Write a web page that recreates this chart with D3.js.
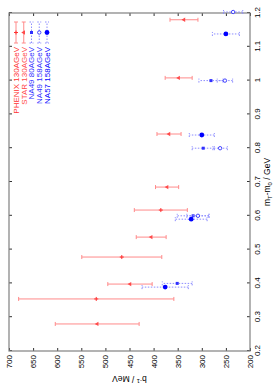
<!DOCTYPE html>
<html>
<head>
<meta charset="utf-8">
<script src="https://cdn.jsdelivr.net/npm/d3@7"></script>
<style>
body { margin:0; background:#fff; }
text { font-family:"Liberation Sans", Arial, sans-serif; }
</style>
</head>
<body>
<div id="chart"></div>
<script>
// values (mT-m0 in GeV, b^-1 in MeV, error in MeV)
let phenixMt = [0.617, 0.478, 0.354];
let phenixB = [385, 466, 519];
let phenixErr = [55, 83, 161];

let starMt = [1.18, 1.008, 0.842, 0.685, 0.537, 0.398, 0.28];
let starB = [337, 348, 368, 372, 405, 449, 517];
let starErr = [29, 28, 25, 24, 31, 46, 87];

let na49lowMt = [1.0, 0.80, 0.60, 0.40];
let na49lowB = [281, 297, 318, 351];
let na49lowErr = [25, 23, 33, 31];

let na49highMt = [1.203, 1.0, 0.80, 0.60];
let na49highB = [235, 252, 262, 308];
let na49highErr = [20, 16, 15, 23];

let na57Mt = [1.138, 0.839, 0.59, 0.389];
let na57B = [250, 300, 322, 376];
let na57Err = [28, 26, 33, 48];

let seriesNames = ["PHENIX 130AGeV", "STAR 130AGeV", "NA49 80AGeV", "NA49 158AGeV", "NA57 158AGeV"];
let xTicks = [0.2, 0.3, 0.4, 0.5, 0.6, 0.7, 0.8, 0.9, 1.0, 1.1, 1.2];
let yTicks = [200, 250, 300, 350, 400, 450, 500, 550, 600, 650, 700];

// the chart is drawn landscape and then turned a quarter turn
let W = 390, H = 273;
let margin = {top:9, right:13, bottom:23, left:39};

let series = [
  {mt:phenixMt, b:phenixB, err:phenixErr, color:"#ff3030", bar:"#ff8a8a", dash:null, mark:"plus"},
  {mt:starMt, b:starB, err:starErr, color:"#ff4a4a", bar:"#ff8a8a", dash:null, mark:"tri"},
  {mt:na49lowMt, b:na49lowB, err:na49lowErr, color:"#3030ff", bar:"#8c8cff", dash:"1.5,1.5", mark:"square"},
  {mt:na49highMt, b:na49highB, err:na49highErr, color:"#3030ff", bar:"#8c8cff", dash:"1.5,1.5", mark:"ocircle"},
  {mt:na57Mt, b:na57B, err:na57Err, color:"#0000ff", bar:"#8c8cff", dash:"1.5,1.5", mark:"fcircle"}
];

let svg = d3.select("#chart").append("svg")
    .attr("width", H)
    .attr("height", W);

let g = svg.append("g")
    .attr("transform", "translate(0," + W + ") rotate(-90)");

let x = d3.scaleLinear().domain([0.2, 1.2]).range([margin.left, W - margin.right]);
let y = d3.scaleLinear().domain([200, 700]).range([H - margin.bottom, margin.top]);

let fmtX = d => String(+d.toFixed(1));

// axes with inward ticks, mirrored on the opposite sides
g.append("g").attr("transform", "translate(0," + (H - margin.bottom) + ")")
    .call(d3.axisBottom(x).tickValues(xTicks).tickFormat(fmtX).tickSizeInner(-3).tickSizeOuter(0).tickPadding(4));
g.append("g").attr("transform", "translate(0," + margin.top + ")")
    .call(d3.axisTop(x).tickValues(xTicks).tickFormat("").tickSizeInner(-3).tickSizeOuter(0));
g.append("g").attr("transform", "translate(" + margin.left + ",0)")
    .call(d3.axisLeft(y).tickValues(yTicks).tickFormat(d3.format("d")).tickSizeInner(-3).tickSizeOuter(0).tickPadding(4));
g.append("g").attr("transform", "translate(" + (W - margin.right) + ",0)")
    .call(d3.axisRight(y).tickValues(yTicks).tickFormat("").tickSizeInner(-3).tickSizeOuter(0));

g.selectAll(".domain").remove();
g.selectAll(".tick line").attr("stroke", "#333");
g.selectAll(".tick text").attr("font-size", 8).attr("fill", "#000");

g.append("rect")
    .attr("x", margin.left).attr("y", margin.top)
    .attr("width", W - margin.left - margin.right)
    .attr("height", H - margin.top - margin.bottom)
    .attr("fill", "none").attr("stroke", "#808080").attr("stroke-width", 1.2);

// axis titles
let xt = g.append("text")
    .attr("x", (margin.left + W - margin.right) / 2).attr("y", H - 3)
    .attr("text-anchor", "middle").attr("font-size", 8.5);
xt.append("tspan").text("m");
xt.append("tspan").attr("font-size", 6).attr("dy", 2).text("T");
xt.append("tspan").attr("dy", -2).text("-m");
xt.append("tspan").attr("font-size", 6).attr("dy", 2).text("0");
xt.append("tspan").attr("dy", -2).text(" / GeV");

let yt = g.append("text")
    .attr("transform", "translate(14," + ((margin.top + H - margin.bottom) / 2) + ") rotate(-90)")
    .attr("text-anchor", "middle").attr("font-size", 8.5);
yt.append("tspan").text("b");
yt.append("tspan").attr("font-size", 6).attr("dy", -3).text("-1");
yt.append("tspan").attr("dy", 3).text(" / MeV");

function drawMark(sel, kind, color) {
  if (kind === "plus") {
    sel.append("path").attr("d", "M-2,0H2M0,-2V2").attr("stroke", color).attr("stroke-width", 1);
  } else if (kind === "tri") {
    sel.append("path").attr("d", d3.symbol(d3.symbolTriangle, 8)).attr("fill", color);
  } else if (kind === "square") {
    sel.append("rect").attr("x", -1.5).attr("y", -1.5).attr("width", 3).attr("height", 3).attr("fill", color);
  } else if (kind === "ocircle") {
    sel.append("circle").attr("r", 1.7).attr("fill", "#fff").attr("stroke", color).attr("stroke-width", 0.9);
  } else {
    sel.append("circle").attr("r", 2.4).attr("fill", color);
  }
}

// error bars and points
series.forEach(function (s) {
  let pts = s.mt.map((m, i) => ({m:m, b:s.b[i], e:s.err[i]}));
  let grp = g.append("g");
  let bars = grp.selectAll(".bar").data(pts).enter().append("g");
  bars.append("line")
      .attr("x1", d => x(d.m)).attr("x2", d => x(d.m))
      .attr("y1", d => y(d.b - d.e)).attr("y2", d => y(d.b + d.e));
  bars.append("line")
      .attr("x1", d => x(d.m) - 2).attr("x2", d => x(d.m) + 2)
      .attr("y1", d => y(d.b - d.e)).attr("y2", d => y(d.b - d.e));
  bars.append("line")
      .attr("x1", d => x(d.m) - 2).attr("x2", d => x(d.m) + 2)
      .attr("y1", d => y(d.b + d.e)).attr("y2", d => y(d.b + d.e));
  bars.selectAll("line").attr("stroke", s.bar).attr("stroke-width", 1)
      .attr("stroke-dasharray", s.dash);
  grp.selectAll(".pt").data(pts).enter().append("g")
      .attr("transform", d => "translate(" + x(d.m) + "," + y(d.b) + ")")
      .each(function () { drawMark(d3.select(this), s.mark, s.color); });
});

// key
let key = g.append("g");
seriesNames.forEach(function (name, i) {
  let s = series[i];
  let ky = 16 + i * 7.75;
  key.append("text")
      .attr("x", 343).attr("y", ky).attr("dy", "0.35em")
      .attr("text-anchor", "end").attr("font-size", 8)
      .attr("fill", s.color).text(name);
  let k = key.append("g");
  k.append("line").attr("x1", 347).attr("x2", 368).attr("y1", ky).attr("y2", ky);
  k.append("line").attr("x1", 347).attr("x2", 347).attr("y1", ky - 2).attr("y2", ky + 2);
  k.append("line").attr("x1", 368).attr("x2", 368).attr("y1", ky - 2).attr("y2", ky + 2);
  k.selectAll("line").attr("stroke", s.bar).attr("stroke-width", 1).attr("stroke-dasharray", s.dash);
  let m = key.append("g").attr("transform", "translate(357.5," + ky + ")");
  drawMark(m, s.mark, s.color);
});
</script>
</body>
</html>
